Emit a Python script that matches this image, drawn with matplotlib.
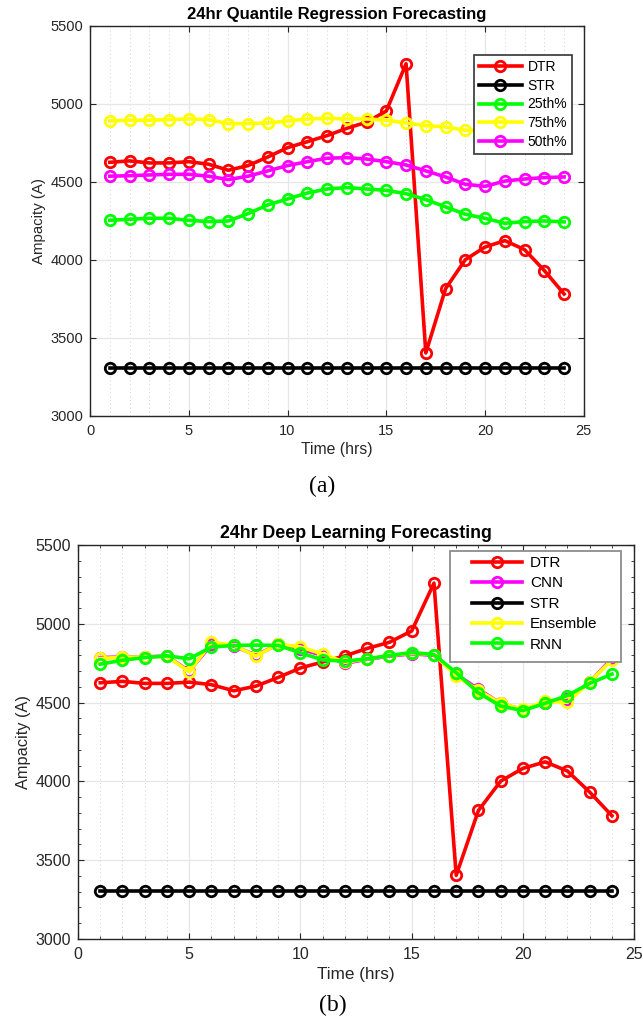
import numpy as np
import matplotlib
matplotlib.use("Agg")
import matplotlib.pyplot as plt
from matplotlib.ticker import MultipleLocator
from matplotlib.patches import Rectangle

plt.rcParams["font.family"] = ["Liberation Sans", "DejaVu Sans"]

hours = np.arange(1, 25)

dtr = [4626, 4635, 4622, 4622, 4630, 4614, 4575, 4605, 4660, 4720, 4758, 4797,
       4844, 4883, 4955, 5258, 3404, 3816, 4002, 4083, 4124, 4066, 3932, 3782]
str_ = [3305] * 24

# quantile regression
q25 = [4254, 4261, 4267, 4267, 4254, 4246, 4250, 4297, 4353, 4391, 4429, 4455,
       4464, 4455, 4446, 4425, 4387, 4340, 4293, 4267, 4235, 4246, 4250, 4244]
q75 = [4891, 4896, 4896, 4900, 4904, 4900, 4874, 4874, 4878, 4891, 4904, 4908,
       4904, 4904, 4896, 4878, 4861, 4853, 4831, 4830, 4830, 4835, 4838, 4840]
q50 = [4537, 4540, 4545, 4549, 4549, 4537, 4515, 4537, 4571, 4605, 4630, 4652,
       4656, 4647, 4630, 4609, 4571, 4532, 4485, 4472, 4506, 4519, 4528, 4532]

# deep learning
cnn = [4785, 4790, 4790, 4795, 4700, 4870, 4860, 4800, 4870, 4840, 4800, 4750,
       4775, 4795, 4810, 4800, 4680, 4585, 4495, 4455, 4500, 4520, 4630, 4780]
ens = [4780, 4788, 4790, 4793, 4696, 4882, 4865, 4795, 4872, 4853, 4808, 4756,
       4778, 4799, 4814, 4805, 4671, 4577, 4496, 4457, 4508, 4502, 4632, 4771]
rnn = [4744, 4769, 4786, 4797, 4778, 4853, 4863, 4865, 4863, 4816, 4771, 4763,
       4778, 4799, 4818, 4805, 4690, 4562, 4478, 4449, 4496, 4545, 4622, 4681]

dark = "#262626"
style = dict(lw=2.6, marker="o", ms=7.5, mfc="none", mew=2.0)

fig = plt.figure(figsize=(6.43, 10.22), dpi=100)
ax1 = fig.add_axes([0.140, 0.593, 0.768, 0.3816])
ax2 = fig.add_axes([0.1213, 0.0812, 0.865, 0.3855])

ax1.plot(hours, dtr, color="r", label="DTR", **style)
ax1.plot(hours, str_, color="k", label="STR", **style)
ax1.plot(hours, q25, color="#00ff00", label="25th%", **style)
ax1.plot(hours, q75, color="#ffff00", label="75th%", **style)
ax1.plot(hours, q50, color="#ff00ff", label="50th%", **style)

ax2.plot(hours, dtr, color="r", label="DTR", **style)
ax2.plot(hours, cnn, color="#ff00ff", label="CNN", **style)
ax2.plot(hours, str_, color="k", label="STR", **style)
ax2.plot(hours, ens, color="#ffff00", label="Ensemble", **style)
ax2.plot(hours, rnn, color="#00ff00", label="RNN", **style)

for ax, fs in ((ax1, 10.5), (ax2, 11.5)):
    ax.set_xlim(0, 25)
    ax.set_ylim(3000, 5500)
    ax.xaxis.set_major_locator(MultipleLocator(5))
    ax.yaxis.set_major_locator(MultipleLocator(500))
    ax.xaxis.set_minor_locator(MultipleLocator(1))
    ax.grid(True, which="major", color="#e6e6e6", lw=0.9)
    ax.grid(True, which="minor", axis="x", color="#d0d0d0", lw=0.7, ls=(0, (1, 3)))
    ax.set_axisbelow(True)
    ax.tick_params(which="both", direction="in", top=True, right=True,
                   colors=dark, labelsize=fs, labelcolor=dark)
    ax.tick_params(which="major", length=4)
    ax.tick_params(axis="x", which="major", pad=6)
    ax.tick_params(axis="y", which="major", pad=5)
    for s in ax.spines.values():
        s.set_color(dark)
        s.set_linewidth(1.0)
    ax.set_xlabel("Time (hrs)", fontsize=fs + 0.8, color=dark, labelpad=3)
    ax.set_ylabel("Ampacity (A)", fontsize=fs + 0.3, color=dark, labelpad=3)

ax1.tick_params(which="minor", length=0)
ax2.yaxis.set_minor_locator(MultipleLocator(100))
ax2.tick_params(which="minor", length=2.5)
ax2.grid(False, which="minor", axis="y")

ax1.set_title("24hr Quantile Regression Forecasting", fontsize=12, fontweight="bold", pad=5)
ax2.set_title("24hr Deep Learning Forecasting", fontsize=12.8, fontweight="bold", pad=5)

leg1 = ax1.legend(loc="upper right", bbox_to_anchor=(0.976, 0.926), borderaxespad=0,
                  fontsize=10, handlelength=3.1, labelspacing=0.35, fancybox=False,
                  framealpha=1, edgecolor="#333333", borderpad=0.35, handletextpad=0.4)
leg1.get_frame().set_linewidth(1.2)

# bottom legend: MATLAB-like wide box drawn separately
ax2.add_patch(Rectangle((0.669, 0.703), 0.308, 0.282, transform=ax2.transAxes,
                        facecolor="white", edgecolor="#8c8c8c", lw=1.3, zorder=4.5))
leg2 = ax2.legend(loc="upper left", bbox_to_anchor=(0.708, 0.972), borderaxespad=0,
                  fontsize=11, handlelength=3.3, labelspacing=0.42, frameon=False,
                  borderpad=0, handletextpad=0.5)

fig.text(0.501, 1 - 486 / 1022, "(a)", ha="center", va="center",
         fontsize=17, family=["Liberation Serif", "DejaVu Serif"])
fig.text(0.518, 1 - 1005 / 1022, "(b)", ha="center", va="center",
         fontsize=17, family=["Liberation Serif", "DejaVu Serif"])

fig.savefig("out.png", dpi=100)
